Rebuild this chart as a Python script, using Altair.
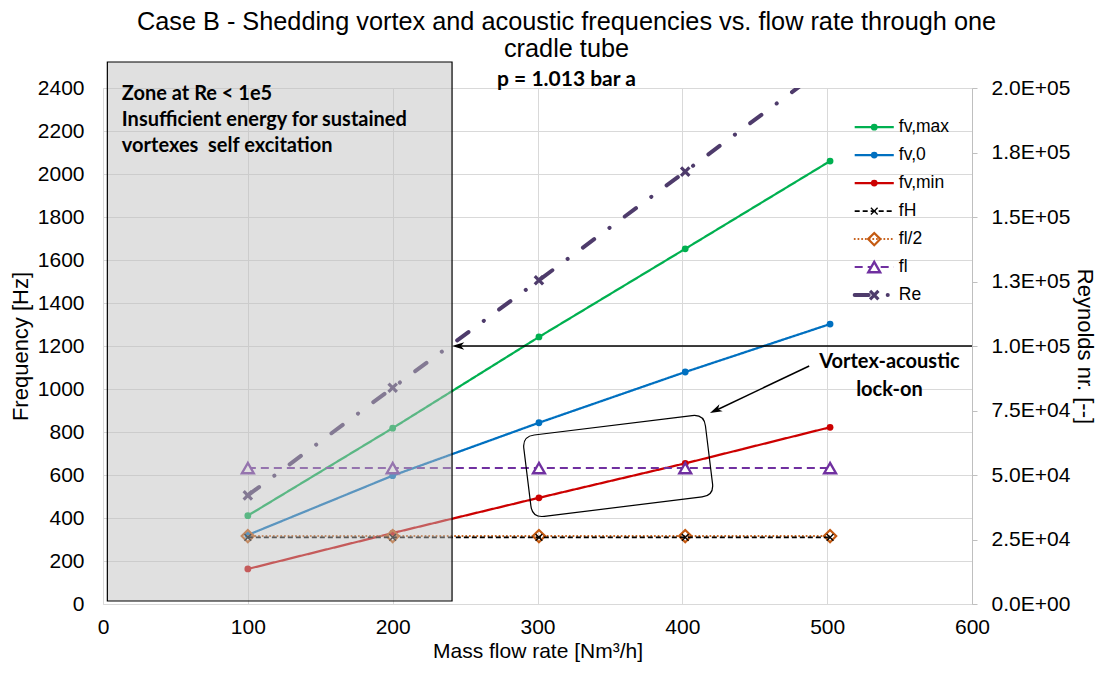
import altair as alt
import pandas as pd

# ---------------- data ----------------
flow = [100, 200, 301, 402, 502]
fv_max = [411, 818, 1242, 1652, 2060]
fv_0 = [321, 597, 843, 1079, 1302]
fv_min = [163, 330, 494, 654, 822]
f_H = [310, 310, 310, 310, 310]
f_l_half = [316, 316, 316, 316, 316]
f_l = [632, 632, 632, 632, 632]
reynolds = [42100, 83800, 125500, 167600, 209400]

series_names = ["fv,max", "fv,0", "fv,min", "fH", "fl/2", "fl", "Re"]
x_ticks = [0, 100, 200, 300, 400, 500, 600]
freq_ticks = [0, 200, 400, 600, 800, 1000, 1200, 1400, 1600, 1800, 2000, 2200, 2400]
re_ticks = [0, 25000, 50000, 75000, 100000, 125000, 150000, 175000, 200000]

zone_text = ["Zone at Re < 1e5", "Insufficient energy for sustained",
             "vortexes\u00a0 self excitation"]
lockon_text = ["Vortex-acoustic", "lock-on"]

# ---------------- styles ----------------
FONT = "Liberation Sans"
BOLD_FONT = "Lato"
XPATH = "M-1,-1L1,1M-1,1L1,-1"
RRECT = ("M-0.869,-0.448 L0.869,-0.448 Q1,-0.448 1,-0.317 L1,0.317 Q1,0.448 0.869,0.448 "
         "L-0.869,0.448 Q-1,0.448 -1,0.317 L-1,-0.317 Q-1,-0.448 -0.869,-0.448 Z")
ARROW = "M1,0 L-1,-0.62 L-0.45,0 L-1,0.62 Z"

STY = {
    "fv,max": dict(color="#00b050", width=2.25, dash=[1, 0], cap="butt", marker="circle"),
    "fv,0": dict(color="#0070c0", width=2.25, dash=[1, 0], cap="butt", marker="circle"),
    "fv,min": dict(color="#cc0000", width=2.25, dash=[1, 0], cap="butt", marker="circle"),
    "fH": dict(color="#000000", width=1.6, dash=[5, 3], cap="butt", marker="x"),
    "fl/2": dict(color="#c55a11", width=2, dash=[0.1, 3.6], cap="round", marker="diamond"),
    "fl": dict(color="#7030a0", width=2, dash=[8, 5], cap="butt", marker="triangle"),
    "Re": dict(color="#4e3b6b", width=4, dash=[14, 19, 0.1, 19], cap="round", marker="xbold"),
}


def marker_props(kind, color):
    if kind == "circle":
        return dict(shape="circle", size=46, filled=True, color=color, opacity=1)
    if kind == "x":
        return dict(shape=XPATH, size=45, filled=False, color=color, strokeWidth=1.3, opacity=1)
    if kind == "diamond":
        return dict(shape="diamond", size=150, filled=False, color=color, strokeWidth=2.2, opacity=1)
    if kind == "triangle":
        return dict(shape="triangle-up", size=140, filled=True, fill="white", stroke=color,
                    strokeWidth=2.4, opacity=1)
    return dict(shape=XPATH, size=70, filled=False, color=color, strokeWidth=3.2, opacity=1)


# ---------------- scales / axes ----------------
xscale = alt.Scale(domain=[0, 600], nice=False)
fscale = alt.Scale(domain=[0, 2400], nice=False)
rscale = alt.Scale(domain=[0, 200000], nice=False)

xaxis = alt.Axis(values=x_ticks, title="Mass flow rate [Nm³/h]", grid=True, gridColor="#d9d9d9",
                 domainColor="#d9d9d9", ticks=False, labelPadding=12, titlePadding=3,
                 labelFlush=False, format="d", titleFontSize=21)
faxis = alt.Axis(values=freq_ticks, title="Frequency [Hz]", orient="left", grid=True,
                 gridColor="#d9d9d9", domainColor="#d9d9d9", ticks=False, labelPadding=19,
                 titlePadding=5, format="d")
raxis = alt.Axis(values=re_ticks, title="Reynolds nr. [--]", orient="right", grid=False,
                 domainColor="#bfbfbf", tickColor="#bfbfbf", ticks=True, tickSize=5,
                 labelPadding=14, titlePadding=3,
                 labelExpr=("datum.value == 0 ? '0.0E+00' : datum.value >= 100000 ? "
                            "format(datum.value / 100000, '.1f') + 'E+05' : "
                            "format(datum.value / 10000, '.1f') + 'E+04'"))


def X(field):
    return alt.X(f"{field}:Q", scale=xscale, axis=xaxis)


def FY(field):
    return alt.Y(f"{field}:Q", scale=fscale, axis=faxis)


def OY(field):
    return alt.Y(f"{field}:Q", scale=fscale, axis=None)


# ---------------- frequency layers ----------------
freq_values = {"fv,max": fv_max, "fv,0": fv_0, "fv,min": fv_min,
               "fH": f_H, "fl/2": f_l_half, "fl": f_l}
freq_df = pd.DataFrame({
    "flow": [f for n in freq_values for f in flow],
    "val": [v for n in freq_values for v in freq_values[n]],
    "s": [n for n in freq_values for _ in flow],
})

draw_order = ["fv,max", "fv,0", "fv,min", "fl/2", "fH", "fl"]
freq_layers = []
for n in draw_order:
    st = STY[n]
    base = alt.Chart(freq_df).transform_filter(alt.datum.s == n)
    freq_layers.append(base.mark_line(color=st["color"], strokeWidth=st["width"],
                                      strokeDash=st["dash"], strokeCap=st["cap"])
                       .encode(x=X("flow"), y=FY("val")))
    freq_layers.append(base.mark_point(**marker_props(st["marker"], st["color"]))
                       .encode(x=X("flow"), y=FY("val")))

# legend (drawn inside the plot, top right)
leg_df = pd.DataFrame({
    "s": series_names,
    "lx": [519.0] * len(series_names),
    "lx2": [546.0] * len(series_names),
    "mx": [532.5] * len(series_names),
    "tx": [549.5] * len(series_names),
    "ly": [2218 - 130.2 * i for i in range(len(series_names))],
})
leg_layers = []
for n in series_names:
    st = STY[n]
    base = alt.Chart(leg_df).transform_filter(alt.datum.s == n)
    leg_layers.append(base.mark_rule(color=st["color"], strokeWidth=st["width"],
                                     strokeDash=st["dash"], strokeCap=st["cap"])
                      .encode(x=X("lx"), x2="lx2", y=FY("ly")))
    leg_layers.append(base.mark_point(**marker_props(st["marker"], st["color"]))
                      .encode(x=X("mx"), y=FY("ly")))
leg_layers.append(alt.Chart(leg_df).mark_text(align="left", baseline="middle", font=FONT,
                                              fontSize=17.5, color="black")
                  .encode(x=X("tx"), y=FY("ly"), text="s:N"))

freq_group = alt.layer(*freq_layers, *leg_layers)

# ---------------- Reynolds layers ----------------
re_df = pd.DataFrame({"flow": flow, "re": reynolds})
st = STY["Re"]
re_group = alt.layer(
    alt.Chart(re_df).mark_line(color=st["color"], strokeWidth=st["width"], strokeDash=st["dash"],
                               strokeCap=st["cap"], clip=True)
    .encode(x=X("flow"), y=alt.Y("re:Q", scale=rscale, axis=raxis)),
    alt.Chart(re_df).mark_point(clip=True, **marker_props("xbold", st["color"]))
    .encode(x=X("flow"), y=alt.Y("re:Q", scale=rscale, axis=raxis)),
)

# ---------------- overlay annotations ----------------
zone_df = pd.DataFrame({"x0": [3.0], "x1": [241.0], "y0": [14.0], "y1": [2521.0]})
zone_rect = alt.Chart(zone_df).mark_rect(fill="#bfbfbf", fillOpacity=0.48, stroke="black",
                                         strokeWidth=1.2).encode(
    x=X("x0"), x2="x1", y=OY("y0"), y2="y1")

zone_label = alt.Chart(pd.DataFrame({"tx": [13.0], "ty": [2418.0], "t": [zone_text]})).mark_text(
    align="left", baseline="top", font=BOLD_FONT, fontWeight="bold", fontSize=20,
    lineHeight=26, color="black").encode(x=X("tx"), y=OY("ty"), text="t")

arrow_df = pd.DataFrame({"ax": [600.0, 487.6], "ax2": [246.0, 423.0],
                         "ay": [1200.0, 1107.0], "ay2": [1200.0, 900.0]})
arrow_lines = alt.Chart(arrow_df).mark_rule(color="black", strokeWidth=1.5).encode(
    x=X("ax"), x2="ax2", y=OY("ay"), y2="ay2")
head_df = pd.DataFrame({"hx": [245.2, 422.9], "hy": [1200.0, 900.5], "ang": [180.0, 154.6]})
arrow_heads = alt.Chart(head_df).mark_point(shape=ARROW, size=150, filled=True, color="black",
                                            opacity=1).encode(
    x=X("hx"), y=OY("hy"), angle=alt.Angle("ang:Q", scale=None))

box_df = pd.DataFrame({"bx": [355.7], "by": [642.0]})
lock_box = alt.Chart(box_df).mark_point(shape=RRECT, size=33489, filled=False, color="black",
                                        strokeWidth=1.2, opacity=1, angle=353).encode(
    x=X("bx"), y=OY("by"))

lock_label = alt.Chart(pd.DataFrame({"tx": [543.0], "ty": [1170.0], "t": [lockon_text]})).mark_text(
    align="center", baseline="top", font=BOLD_FONT, fontWeight="bold", fontSize=20,
    lineHeight=28, color="black").encode(x=X("tx"), y=OY("ty"), text="t")

overlay_group = alt.layer(zone_rect, zone_label, arrow_lines, arrow_heads, lock_box, lock_label)

chart = alt.layer(freq_group, re_group, overlay_group).resolve_scale(y="independent").properties(
    width=869, height=516,
    autosize=alt.AutoSizeParams(type="none"),
    padding={"left": 95, "top": 80, "right": 125, "bottom": 60},
    title=alt.Title(
        text=["Case B - Shedding vortex and acoustic frequencies vs. flow rate through one",
              "cradle tube"],
        subtitle="p = 1.013 bar a",
        anchor="middle", frame="group", dx=29, offset=-29,
        font=FONT, fontSize=25.3, fontWeight="normal", lineHeight=27, color="black",
        subtitleFont=BOLD_FONT, subtitleFontWeight="bold", subtitleFontSize=21,
        subtitleColor="black", subtitlePadding=7,
    ),
).configure_view(stroke=None).configure_axis(
    labelFont=FONT, titleFont=FONT, labelFontSize=21, titleFontSize=22, labelColor="black",
    titleColor="black", titleFontWeight="normal",
)

chart.save("out.html", embed_options={"renderer": "svg", "actions": False})
